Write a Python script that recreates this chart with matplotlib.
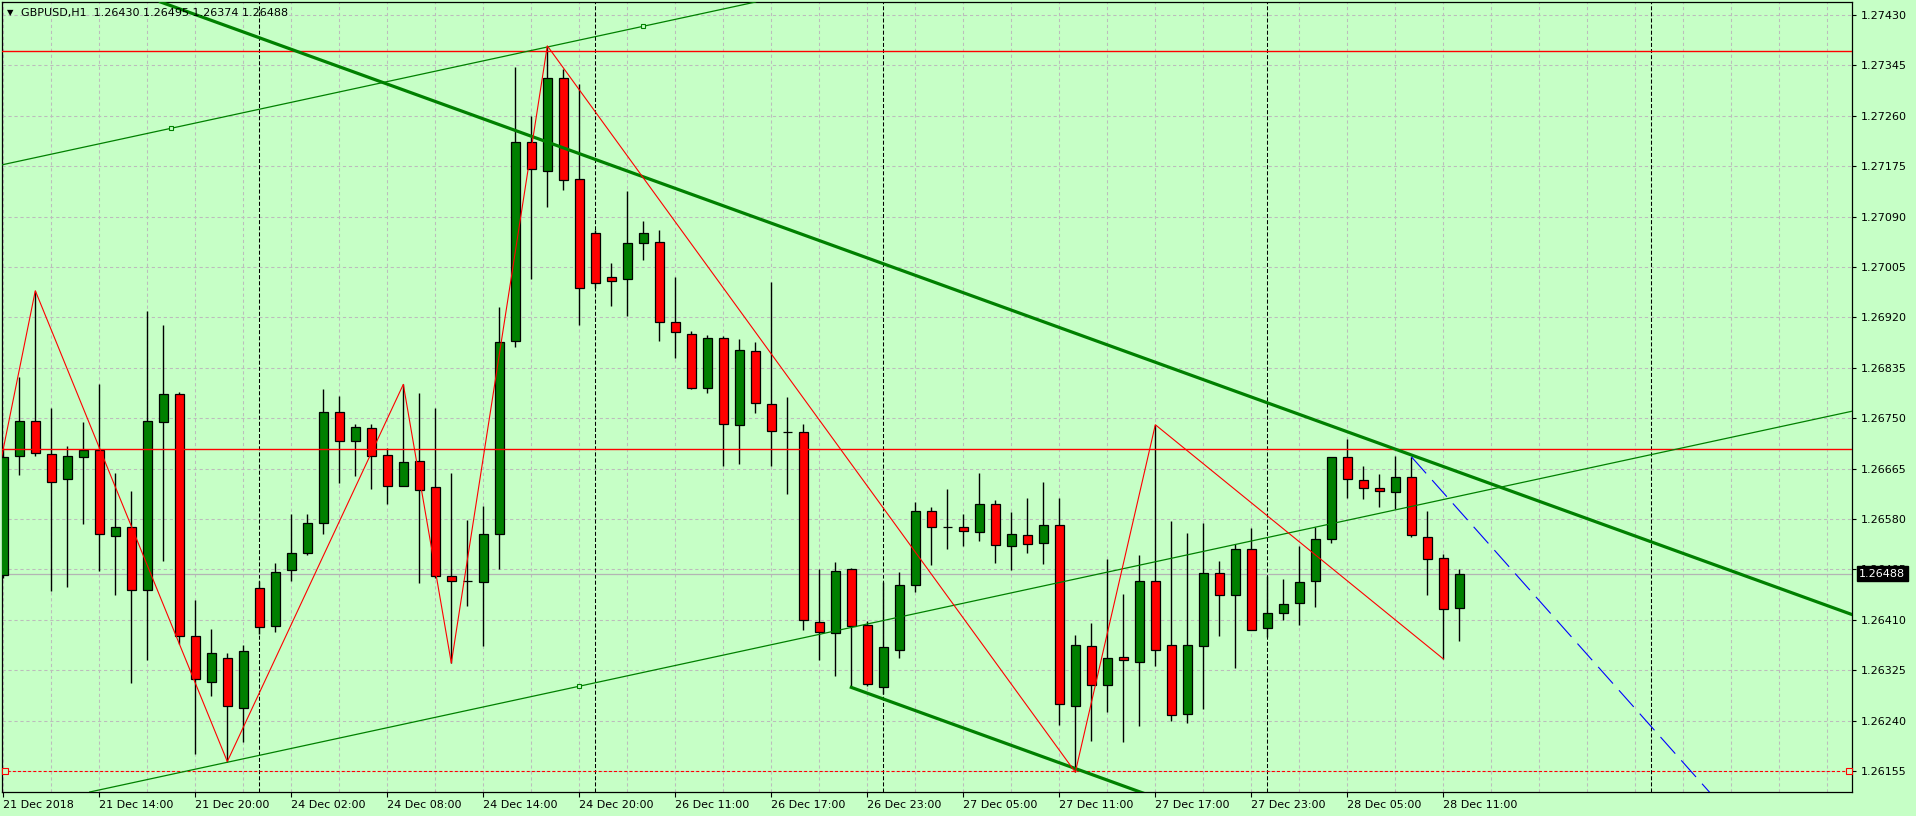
import matplotlib
matplotlib.use("Agg")
import matplotlib.pyplot as plt
import matplotlib.transforms as mtransforms
import numpy as np

plt.rcParams['lines.scale_dashes'] = False
plt.rcParams['font.family'] = ['DejaVu Sans']

# ---------------- data ----------------
symbol = "GBPUSD,H1"

opens = [1.26486, 1.26686, 1.26745, 1.26689, 1.26647, 1.26684, 1.26697, 1.26551, 1.26566, 1.26460,
         1.26744, 1.26790, 1.26383, 1.26305, 1.26345, 1.26261, 1.26463, 1.26399, 1.26494, 1.26523,
         1.26574, 1.26761, 1.26712, 1.26733, 1.26688, 1.26636, 1.26678, 1.26634, 1.26484, 1.26475,
         1.26474, 1.26554, 1.26880, 1.27216, 1.27167, 1.27324, 1.27154, 1.27063, 1.26988, 1.26985,
         1.27046, 1.27048, 1.26913, 1.26892, 1.26801, 1.26885, 1.26738, 1.26863, 1.26774, 1.26727,
         1.26726, 1.26406, 1.26387, 1.26495, 1.26401, 1.26296, 1.26359, 1.26469, 1.26594, 1.26566,
         1.26567, 1.26558, 1.26606, 1.26535, 1.26553, 1.26540, 1.26570, 1.26265, 1.26366, 1.26300,
         1.26348, 1.26339, 1.26476, 1.26368, 1.26251, 1.26366, 1.26489, 1.26452, 1.26529, 1.26396,
         1.26421, 1.26438, 1.26475, 1.26546, 1.26684, 1.26646, 1.26632, 1.26625, 1.26651, 1.26549,
         1.26514, 1.26430]
highs = [1.26700, 1.26820, 1.26965, 1.26768, 1.26703, 1.26744, 1.26808, 1.26657, 1.26628, 1.26930,
         1.26907, 1.26794, 1.26444, 1.26395, 1.26354, 1.26368, 1.26475, 1.26505, 1.26589, 1.26589,
         1.26799, 1.26788, 1.26740, 1.26740, 1.26700, 1.26807, 1.26793, 1.26768, 1.26657, 1.26578,
         1.26602, 1.26937, 1.27342, 1.27259, 1.27378, 1.27339, 1.27313, 1.27068, 1.27011, 1.27134,
         1.27082, 1.27068, 1.26988, 1.26897, 1.26890, 1.26889, 1.26884, 1.26879, 1.26979, 1.26785,
         1.26740, 1.26495, 1.26508, 1.26497, 1.26408, 1.26474, 1.26491, 1.26608, 1.26600, 1.26631,
         1.26588, 1.26658, 1.26612, 1.26591, 1.26616, 1.26642, 1.26616, 1.26384, 1.26404, 1.26512,
         1.26453, 1.26519, 1.26739, 1.26576, 1.26557, 1.26574, 1.26510, 1.26537, 1.26565, 1.26484,
         1.26479, 1.26535, 1.26567, 1.26685, 1.26715, 1.26670, 1.26656, 1.26687, 1.26685, 1.26594,
         1.26521, 1.26495]
lows = [1.26480, 1.26654, 1.26686, 1.26458, 1.26466, 1.26571, 1.26493, 1.26451, 1.26304, 1.26343,
        1.26510, 1.26370, 1.26183, 1.26281, 1.26171, 1.26204, 1.26386, 1.26389, 1.26475, 1.26520,
        1.26554, 1.26640, 1.26652, 1.26631, 1.26605, 1.26636, 1.26472, 1.26480, 1.26337, 1.26433,
        1.26366, 1.26496, 1.26870, 1.26985, 1.27107, 1.27135, 1.26907, 1.26970, 1.26939, 1.26923,
        1.27017, 1.26880, 1.26852, 1.26799, 1.26792, 1.26669, 1.26673, 1.26759, 1.26670, 1.26622,
        1.26393, 1.26343, 1.26316, 1.26296, 1.26299, 1.26285, 1.26345, 1.26457, 1.26502, 1.26530,
        1.26534, 1.26543, 1.26506, 1.26494, 1.26522, 1.26504, 1.26232, 1.26153, 1.26205, 1.26254,
        1.26204, 1.26231, 1.26332, 1.26239, 1.26236, 1.26260, 1.26382, 1.26328, 1.26393, 1.26381,
        1.26409, 1.26402, 1.26431, 1.26539, 1.26615, 1.26613, 1.26601, 1.26597, 1.26549, 1.26451,
        1.26344, 1.26374]
closes = [1.26685, 1.26745, 1.26691, 1.26643, 1.26686, 1.26697, 1.26554, 1.26566, 1.26460, 1.26745,
          1.26790, 1.26383, 1.26311, 1.26354, 1.26264, 1.26357, 1.26398, 1.26490, 1.26522, 1.26574,
          1.26761, 1.26712, 1.26735, 1.26687, 1.26636, 1.26676, 1.26629, 1.26484, 1.26476, 1.26475,
          1.26555, 1.26879, 1.27216, 1.27171, 1.27324, 1.27151, 1.26970, 1.26978, 1.26982, 1.27046,
          1.27063, 1.26913, 1.26896, 1.26801, 1.26885, 1.26740, 1.26865, 1.26775, 1.26728, 1.26727,
          1.26409, 1.26389, 1.26492, 1.26399, 1.26301, 1.26364, 1.26469, 1.26594, 1.26567, 1.26566,
          1.26560, 1.26606, 1.26536, 1.26555, 1.26538, 1.26570, 1.26268, 1.26368, 1.26300, 1.26346,
          1.26342, 1.26476, 1.26359, 1.26250, 1.26368, 1.26489, 1.26452, 1.26529, 1.26393, 1.26421,
          1.26436, 1.26473, 1.26546, 1.26684, 1.26647, 1.26632, 1.26627, 1.26651, 1.26553, 1.26512,
          1.26428, 1.26488]

time_labels = ["21 Dec 2018", "21 Dec 14:00", "21 Dec 20:00", "24 Dec 02:00", "24 Dec 08:00",
               "24 Dec 14:00", "24 Dec 20:00", "26 Dec 11:00", "26 Dec 17:00", "26 Dec 23:00",
               "27 Dec 05:00", "27 Dec 11:00", "27 Dec 17:00", "27 Dec 23:00", "28 Dec 05:00",
               "28 Dec 11:00"]
time_label_bars = [0, 6, 12, 18, 24, 30, 36, 42, 48, 54, 60, 66, 72, 78, 84, 90]
price_ticks = [1.27430, 1.27345, 1.27260, 1.27175, 1.27090, 1.27005, 1.26920, 1.26835,
               1.26750, 1.26665, 1.26580, 1.26495, 1.26410, 1.26325, 1.26240, 1.26155]
day_separator_bars = [16, 37, 55, 79, 103]

zigzag_bars = [-1, 2, 14, 25, 28, 34, 67, 72, 90]
zigzag_prices = [1.26565, 1.26965, 1.26171, 1.26807, 1.26337, 1.27378, 1.26153, 1.26739, 1.26344]

red_levels = [1.27370, 1.26698]
red_dashed_level = 1.26155

# thick descending channel (two anchors + parallel start)
thick_anchor_bars = [0, 88]
thick_anchor_prices = [1.27548, 1.26688]
thick_parallel_bar = 53
thick_parallel_price = 1.26296

# thin ascending channel
thin_anchor_bars = [10.5, 40]
thin_anchor_prices = [1.27239, 1.27411]
thin_parallel_bar = 36
thin_parallel_price = 1.26298

# blue dashed trendline
blue_bars = [88, 91.92]
blue_prices = [1.26685, 1.26566]

# ---------------- style ----------------
BG = '#C6FFC6'
GRID = '#BCBCBC'
BULL = '#008000'
BEAR = '#FF0000'

W, H = 1916, 816
fig = plt.figure(figsize=(W / 100, H / 100), dpi=100, facecolor=BG)
ax = fig.add_axes([2 / W, 24 / H, 1850 / W, 790 / H], facecolor=BG)

n_slots_right = 115.54
ax.set_xlim(-0.081, n_slots_right)
ax.set_ylim(1.2611959, 1.2745192)

# grid
for p in price_ticks:
    ax.axhline(p, color=GRID, lw=0.75, dashes=(2.3, 2.0), zorder=0.5)
for gx in np.arange(0, 116, 3):
    ax.axvline(gx, color=GRID, lw=0.75, dashes=(2.3, 2.0), zorder=0.5)
for sx in day_separator_bars:
    ax.axvline(sx, color='black', lw=0.75, dashes=(2.9, 1.5), zorder=0.6)

# bid line
bid = closes[-1]
ax.axhline(bid, color='#B4B4B4', lw=0.9, zorder=0.7)

# candles
O = np.array(opens); Hh = np.array(highs); L = np.array(lows); C = np.array(closes)
x = np.arange(len(O))
up = C >= O
ax.vlines(x, L, Hh, color='black', lw=1.0, zorder=3)
ax.bar(x, np.abs(C - O), bottom=np.minimum(O, C), width=0.57,
       color=np.where(up, BULL, BEAR), edgecolor='black', linewidth=0.9, zorder=4)

# red horizontal levels
for lv in red_levels:
    ax.axhline(lv, color='red', lw=1.0, zorder=5)
ax.axhline(red_dashed_level, color='red', lw=0.8, dashes=(2.2, 1.5), zorder=5)
ax.plot([0.12, 115.35], [red_dashed_level] * 2, 's', ms=4, mfc=BG, mec='red', mew=0.8,
        zorder=6, clip_on=False)

# zigzag
ax.plot(zigzag_bars, zigzag_prices, color='red', lw=0.8, zorder=6)

# thick channel
p1 = (thick_anchor_bars[0], thick_anchor_prices[0])
p2 = (thick_anchor_bars[1], thick_anchor_prices[1])
ax.axline(p1, p2, color=BULL, lw=2.3, zorder=5)
slope_thick = (p2[1] - p1[1]) / (p2[0] - p1[0])
x_end = n_slots_right + 1
ax.plot([thick_parallel_bar, x_end],
        [thick_parallel_price, thick_parallel_price + slope_thick * (x_end - thick_parallel_bar)],
        color=BULL, lw=2.3, zorder=5)

# thin channel
q1 = (thin_anchor_bars[0], thin_anchor_prices[0])
q2 = (thin_anchor_bars[1], thin_anchor_prices[1])
ax.axline(q1, q2, color=BULL, lw=0.9, zorder=5)
slope_thin = (q2[1] - q1[1]) / (q2[0] - q1[0])
ax.axline((thin_parallel_bar, thin_parallel_price), slope=slope_thin, color=BULL, lw=0.9, zorder=5)
ax.plot(list(thin_anchor_bars) + [thin_parallel_bar], list(thin_anchor_prices) + [thin_parallel_price],
        's', ms=3.5, mfc=BG, mec=BULL, mew=0.8, zorder=6)

# blue dashed trendline (ray)
slope_blue = (blue_prices[1] - blue_prices[0]) / (blue_bars[1] - blue_bars[0])
ax.plot([blue_bars[0], x_end], [blue_prices[0], blue_prices[0] + slope_blue * (x_end - blue_bars[0])],
        color='blue', lw=0.8, dashes=(16, 6.5), zorder=6)

# axes / ticks
for s in ax.spines.values():
    s.set_color('black'); s.set_linewidth(0.9)
ax.yaxis.tick_right()
ax.set_yticks(price_ticks)
ax.set_yticklabels([f"{p:.5f}" for p in price_ticks])
ax.tick_params(axis='y', direction='out', length=3, width=0.8, pad=3.5, labelsize=8, colors='black')
ax.set_xticks(time_label_bars)
ax.set_xticklabels(time_labels)
for lab in ax.get_xticklabels():
    lab.set_ha('left')
ax.tick_params(axis='x', direction='out', length=3.5, width=0.8, pad=2, labelsize=8, colors='black')

# current price box
tr = mtransforms.blended_transform_factory(ax.transAxes, ax.transData)
ax.text(1 + 7 / 1850, bid, f"{bid:.5f}", transform=tr, ha='left', va='center', color='white',
        fontsize=8, zorder=20, clip_on=False,
        bbox=dict(boxstyle='square,pad=0.22', fc='black', ec='black'))

# header
fig.text(7 / W, 1 - 13 / H, "\u25BC", fontsize=6, va='center', ha='left', color='black')
header = f"{symbol}  {opens[-1]:.5f} {highs[-1]:.5f} {lows[-1]:.5f} {closes[-1]:.5f}"
fig.text(21 / W, 1 - 13 / H, header, fontsize=8, va='center', ha='left', color='black')

fig.savefig("out.png", dpi=100, facecolor=BG)
